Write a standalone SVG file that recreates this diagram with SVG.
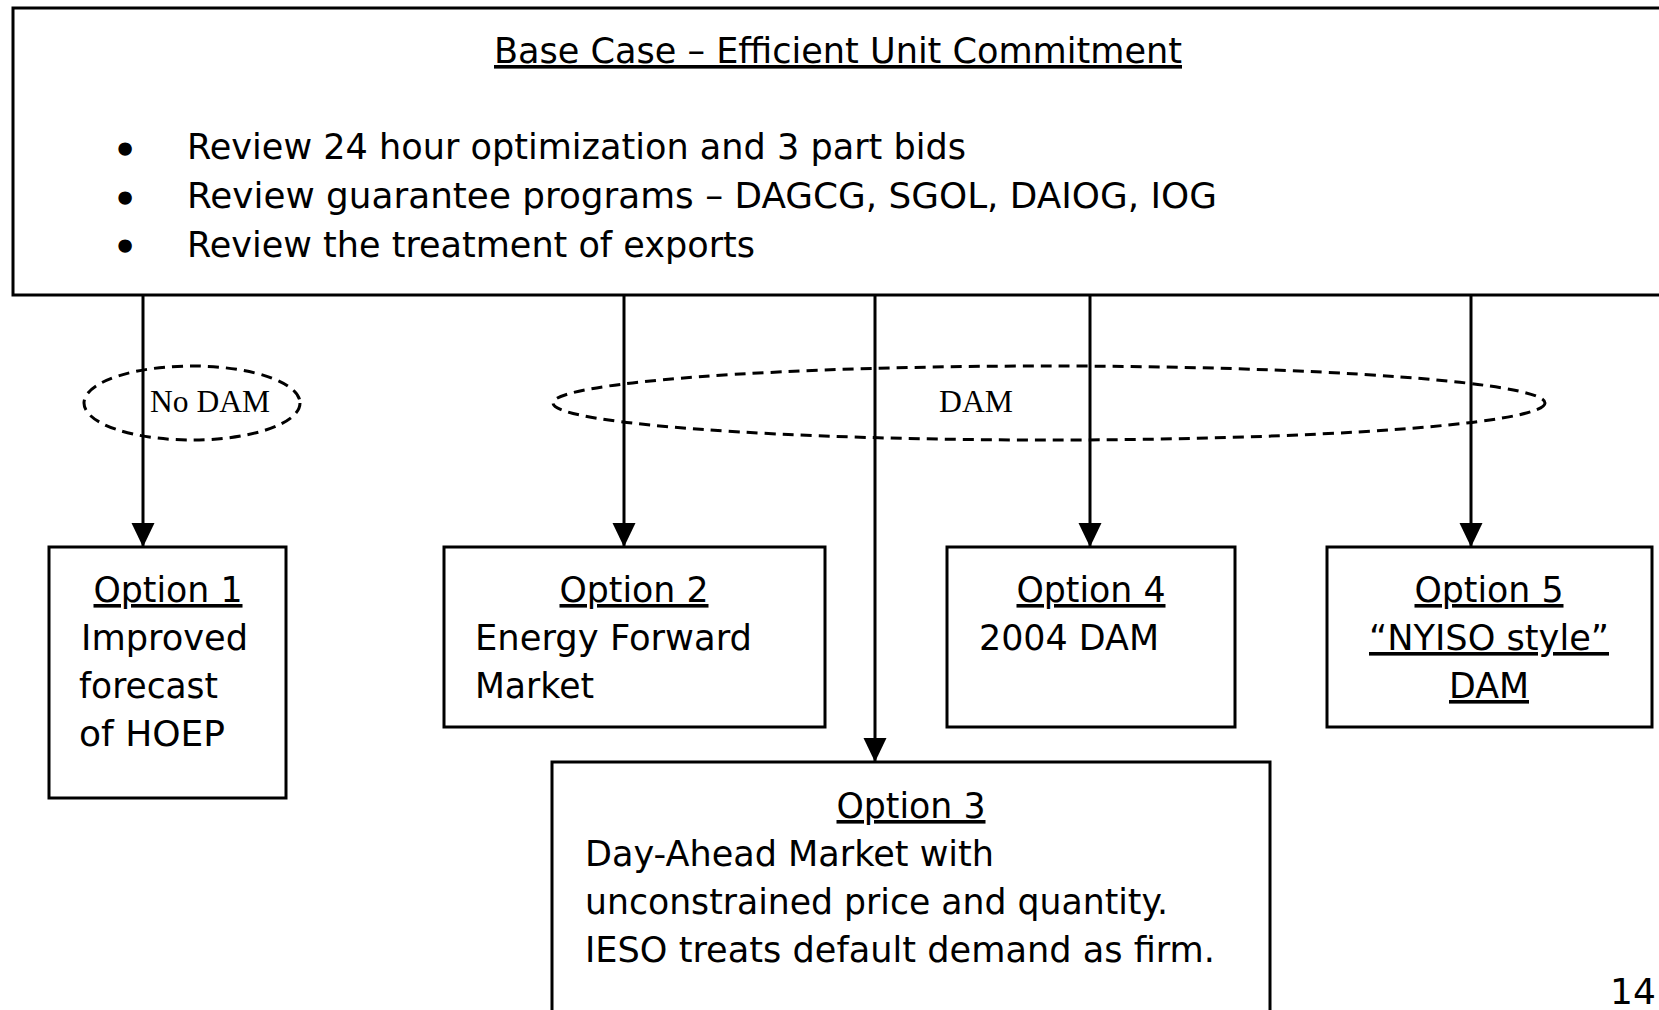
<svg xmlns="http://www.w3.org/2000/svg" width="1659" height="1010" viewBox="0 0 1659 1010">
<style>
  .box { fill: #fff; stroke: #000; stroke-width: 3; }
  .t { font-family: "DejaVu Sans", Verdana, sans-serif; font-size: 36px; fill: #000; }
  .b { font-family: "DejaVu Sans", Verdana, sans-serif; font-size: 41px; fill: #000; text-anchor: middle; stroke: #000; stroke-width: 1.5; }
  .u { text-decoration: underline; }
  .mid { text-anchor: middle; }
  .conn { stroke: #000; stroke-width: 3; fill: none; marker-end: url(#arrow); }
  .grp { fill: none; stroke: #000; stroke-width: 3; stroke-dasharray: 11 7; }
  .lbl { font-family: "Liberation Serif", "Times New Roman", serif; font-size: 31px; fill: #000; }
</style>
<defs>
  <marker id="arrow" markerUnits="userSpaceOnUse" markerWidth="24" markerHeight="24" refX="24" refY="11.5" orient="auto" viewBox="0 0 24 23">
    <path d="M0,0 L24,11.5 L0,23 Z" fill="#000"/>
  </marker>
</defs>
<rect width="1659" height="1010" fill="#fff"/>

<g id="connectors">
  <line class="conn" x1="143" y1="295" x2="143" y2="547"/>
  <line class="conn" x1="624" y1="295" x2="624" y2="547"/>
  <line class="conn" x1="875" y1="295" x2="875" y2="762"/>
  <line class="conn" x1="1090" y1="295" x2="1090" y2="547"/>
  <line class="conn" x1="1471" y1="295" x2="1471" y2="547"/>
</g>

<g id="base-case">
  <rect class="box" x="13" y="8" width="1670" height="287"/>
  <text class="t u mid" x="838" y="63" textLength="688" lengthAdjust="spacingAndGlyphs">Base Case – Efficient Unit Commitment</text>
  <text class="b" x="125" y="164">•</text>
  <text class="b" x="125" y="213">•</text>
  <text class="b" x="125" y="261">•</text>
  <text class="t" x="187" y="159" textLength="779" lengthAdjust="spacingAndGlyphs">Review 24 hour optimization and 3 part bids</text>
  <text class="t" x="187" y="208" textLength="1030" lengthAdjust="spacingAndGlyphs">Review guarantee programs – DAGCG, SGOL, DAIOG, IOG</text>
  <text class="t" x="187" y="257" textLength="568" lengthAdjust="spacingAndGlyphs">Review the treatment of exports</text>
</g>

<g id="no-dam-group">
  <ellipse class="grp" cx="192" cy="403" rx="108" ry="37"/>
  <text class="lbl" x="150" y="412" textLength="120" lengthAdjust="spacingAndGlyphs">No DAM</text>
</g>

<g id="dam-group">
  <ellipse class="grp" cx="1049" cy="403" rx="496" ry="37"/>
  <text class="lbl" x="939" y="412" textLength="74" lengthAdjust="spacingAndGlyphs">DAM</text>
</g>

<g id="option1">
  <rect class="box" x="49" y="547" width="237" height="251"/>
  <text class="t u mid" x="168" y="602" textLength="149" lengthAdjust="spacingAndGlyphs">Option 1</text>
  <text class="t" x="81" y="650" textLength="167" lengthAdjust="spacingAndGlyphs">Improved</text>
  <text class="t" x="79" y="698" textLength="139" lengthAdjust="spacingAndGlyphs">forecast</text>
  <text class="t" x="79" y="746" textLength="146" lengthAdjust="spacingAndGlyphs">of HOEP</text>
</g>

<g id="option2">
  <rect class="box" x="444" y="547" width="381" height="180"/>
  <text class="t u mid" x="634" y="602" textLength="149" lengthAdjust="spacingAndGlyphs">Option 2</text>
  <text class="t" x="475" y="650" textLength="277" lengthAdjust="spacingAndGlyphs">Energy Forward</text>
  <text class="t" x="475" y="698" textLength="119" lengthAdjust="spacingAndGlyphs">Market</text>
</g>

<g id="option3">
  <rect class="box" x="552" y="762" width="718" height="270"/>
  <text class="t u mid" x="911" y="818" textLength="149" lengthAdjust="spacingAndGlyphs">Option 3</text>
  <text class="t" x="585" y="866" textLength="409" lengthAdjust="spacingAndGlyphs">Day-Ahead Market with</text>
  <text class="t" x="585" y="914" textLength="583" lengthAdjust="spacingAndGlyphs">unconstrained price and quantity.</text>
  <text class="t" x="585" y="962" textLength="630" lengthAdjust="spacingAndGlyphs">IESO treats default demand as firm.</text>
</g>

<g id="option4">
  <rect class="box" x="947" y="547" width="288" height="180"/>
  <text class="t u mid" x="1091" y="602" textLength="149" lengthAdjust="spacingAndGlyphs">Option 4</text>
  <text class="t" x="979" y="650" textLength="180" lengthAdjust="spacingAndGlyphs">2004 DAM</text>
</g>

<g id="option5">
  <rect class="box" x="1327" y="547" width="325" height="180"/>
  <text class="t u mid" x="1489" y="602" textLength="149" lengthAdjust="spacingAndGlyphs">Option 5</text>
  <text class="t u mid" x="1489" y="650" textLength="240" lengthAdjust="spacingAndGlyphs">“NYISO style”</text>
  <text class="t u mid" x="1489" y="698" textLength="80" lengthAdjust="spacingAndGlyphs">DAM</text>
</g>

<text class="t" x="1610" y="1004">14</text>
</svg>
